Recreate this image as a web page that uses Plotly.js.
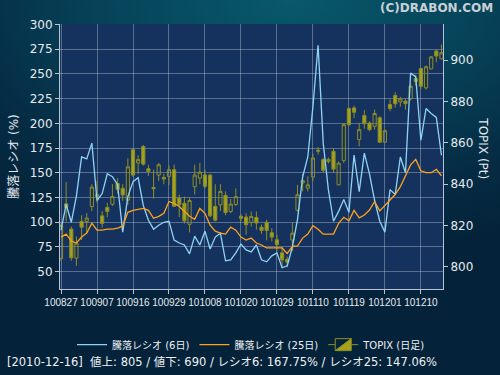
<!DOCTYPE html>
<html><head><meta charset="utf-8">
<script src="https://cdn.plot.ly/plotly-3.0.1.min.js"></script>
<style>
html,body{margin:0;padding:0;}
body{width:500px;height:375px;overflow:hidden;
background:radial-gradient(ellipse 90% 70% at 58% 0%, #08596a 0%, #06445a 40%, #052c44 75%, #04233a 100%);}
#chart{width:500px;height:375px;}
</style></head>
<body><div id="chart"></div>
<script>
const dates = ["100827","100830","100831","100901","100902","100903","100906","100907","100908","100909","100910","100913","100914","100915","100916","100917","100921","100922","100924","100927","100928","100929","100930","101001","101004","101005","101006","101007","101008","101012","101013","101014","101015","101018","101019","101020","101021","101022","101025","101026","101027","101028","101029","101101","101102","101104","101105","101108","101109","101110","101111","101112","101115","101116","101117","101118","101119","101122","101124","101125","101126","101129","101130","101201","101202","101203","101206","101207","101208","101209","101210","101213","101214","101215","101216"];

const ratio6 = [92,118,100,127,166,164,180,122,129,149,146,138,90,126,141,145,117,102,93,97,100,101,82,79,77,68,86,77,91,73,85,89,61,62,69,78,72,70,77,62,60,66,69,54,56,75,103,146,166,217,279,180,133,101,111,123,110,168,131,170,149,122,101,90,133,128,166,150,251,247,183,215,210,206,167.75];

const ratio25 = [85,88,81,79,85,89,99,92,92,93,93,94,96,110,112,113,114,112,104,106,109,121,119,116,111,106,103,114,109,97,91,89,88,95,92,85,82,84,79,77,74,74,74,74,68.5,75.5,76,84,88,96.5,93,88,88,88,99,105,101.5,112,104.5,107.3,112.3,121,111.5,117,123,128,136,147,158,163.6,152,150.2,150.1,153.5,147.06];

const topixOpen  = [804,830.5,818.3,804.2,822,822,829.2,834,824.7,828.8,830.3,840.4,838,832.3,856.7,850.3,858.2,847.5,838.4,844.4,843.3,843.8,847,833.3,830.8,820.6,838.8,843,844.5,844.4,829.3,830,834.6,826.8,830.2,824.5,824.1,821.5,823.9,819.2,821.6,816.5,813.1,806.8,803.6,813,827.4,840.6,838.1,843.5,855.9,851.9,851,855.9,839.7,851.5,876.6,876.9,861.6,873.2,869.6,868,872.1,860.3,878.5,882.9,879.8,880.2,881.3,891.1,896,886.6,895.8,904.4,900.7];
const topixHigh  = [821,841,819.5,814.7,825,826,840,841.5,827,831,840,843,840,852.5,857.3,854,859,849.4,847,850.3,845,849,849.5,835,834,833.5,849.5,850.3,847,845,840,840,836.5,833,838,825.5,826,826.8,826.8,820.5,822.8,818.7,815.5,810,805,821.3,839.7,845,843.8,854.8,858,852.7,853,857.5,851,869.6,877.2,878,869.6,875.8,870.4,876.1,872.9,866.5,881,884.5,882.3,881.3,888.6,893,896.3,897.4,902,904.9,907.6];
const topixLow   = [803,822,803,800.5,813,816.3,827,831,819,824,829.5,835.5,832,830,843.5,845,849,844,833,841.5,840,839.5,829,824,821,816.7,835,840,838,824,822,827,825,826,829.5,822,815.5,819.5,818,816,812.8,812.3,807.4,799.8,799.8,807.6,826.8,836.5,836.5,841.4,854.3,845.4,850,845.4,839.5,850.2,868,872,858.3,866.9,865.6,866.4,860,860,875.3,877,877.5,876.1,880.5,887.7,886.1,885.8,895.5,899,900.4];
const topixClose = [820,828.8,804.4,811.5,819.2,823.6,838.6,835,821,826.8,834,837.5,834.8,848.4,844.4,851.9,849.7,846.2,837.8,849.4,842.5,847,829.3,830,822.3,832.1,844.4,845.8,839,824.7,822.6,836.5,826.3,830.4,834,823.5,820.4,824.4,821.2,817.6,817.6,814.4,810.8,803.4,802.3,816.3,834.9,841.7,839.7,852.7,856.4,846.7,852,847.3,850.2,868.8,868.8,874.8,866.4,869.3,866.4,874.2,860.3,865.9,876.6,878.9,881.3,879,887.4,889.7,887.4,896.8,901.6,902,903.6];

const tickDates = dates.filter((d, i) => i % 7 === 0);
const ratioTicks = [50,75,100,125,150,175,200,225,250,275,300];
const topixTicks = [800,820,840,860,880,900];

const FONT = "DejaVu Sans, Noto Sans CJK JP, sans-serif";
const olive = "#8e8e22";

const traces = [
  {type:"candlestick", name:"TOPIX (日足)", x:dates, open:topixOpen, high:topixHigh, low:topixLow, close:topixClose,
   xaxis:"x", yaxis:"y", legendrank:3, whiskerwidth:0,
   increasing:{line:{color:olive,width:1}, fillcolor:"rgba(0,0,0,0)"},
   decreasing:{line:{color:olive,width:1}, fillcolor:"#a3a31e"},
   hoverinfo:"skip"},
  {type:"scatter", mode:"lines", name:"騰落レシオ (6日)", x:dates, y:ratio6, xaxis:"x", yaxis:"y2",
   line:{color:"#8fd4f4", width:1.3}, legendrank:1, hoverinfo:"skip"},
  {type:"scatter", mode:"lines", name:"騰落レシオ (25日)", x:dates, y:ratio25, xaxis:"x", yaxis:"y2",
   line:{color:"#ffa21a", width:1.3}, legendrank:2, hoverinfo:"skip"}
];

const axisCol = "#b9c3d3";
const layout = {
  width:500, height:375,
  margin:{l:60, r:57, t:24, b:86},
  paper_bgcolor:"rgba(0,0,0,0)",
  plot_bgcolor:"#15325f",
  font:{family:FONT, color:"#e6e9ee", size:11},
  showlegend:true,
  boxgap:0.12,
  legend:{orientation:"h", x:0.5, xanchor:"center", y:-0.21, yanchor:"middle",
          font:{family:FONT, size:10, color:"#eef0f3"}, bgcolor:"rgba(0,0,0,0)", itemwidth:30},
  xaxis:{type:"category", range:[-0.2, 74.3], tickvals:tickDates, ticktext:tickDates, tickangle:0,
         showgrid:true, gridcolor:"rgba(220,225,235,0.35)", gridwidth:1,
         showline:true, linecolor:axisCol, linewidth:1, ticks:"outside", ticklen:4, tickcolor:axisCol,
         tickfont:{size:10, family:"Liberation Sans, Arial, sans-serif", color:"#e6e9ee"},
         rangeslider:{visible:false}, zeroline:false, fixedrange:true},
  yaxis:{side:"right", range:[789.3, 917.5], tickvals:topixTicks, showgrid:false, zeroline:false,
         showline:true, linecolor:axisCol, linewidth:1, ticks:"outside", ticklen:4, tickcolor:axisCol,
         tickfont:{size:12, color:"#e6e9ee"}},
  yaxis2:{side:"left", overlaying:"y", range:[32.5, 300.5], tickvals:ratioTicks,
          showgrid:true, gridcolor:"rgba(220,225,235,0.35)", gridwidth:1, zeroline:false,
          showline:true, linecolor:axisCol, linewidth:1, ticks:"outside", ticklen:4, tickcolor:axisCol,
          tickfont:{size:12, color:"#e6e9ee"},
          title:{text:"騰落レシオ (%)", standoff:8, font:{size:12, color:"#e6e9ee", family:FONT}}},
  annotations:[
    {text:"TOPIX (Pt)", xref:"paper", yref:"paper", x:1.105, y:0.53, textangle:90, showarrow:false,
     xanchor:"center", yanchor:"middle", font:{size:12, color:"#e6e9ee", family:FONT}},
    {text:"<b>(C)DRABON.COM</b>", xref:"paper", yref:"paper", x:1.136, y:1.062, xanchor:"right", yanchor:"middle",
     showarrow:false, font:{size:12, color:"#c9d0d6", family:FONT}},
    {text:"[2010-12-16]  値上: 805 / 値下: 690 / レシオ6: 167.75% / レシオ25: 147.06%", xref:"paper", yref:"paper",
     x:-0.144, y:-0.276, xanchor:"left", yanchor:"middle", showarrow:false,
     font:{size:11.5, color:"#eef0f3", family:FONT}}
  ]
};

Plotly.newPlot("chart", traces, layout, {displayModeBar:false, staticPlot:true});
</script>
</body></html>
